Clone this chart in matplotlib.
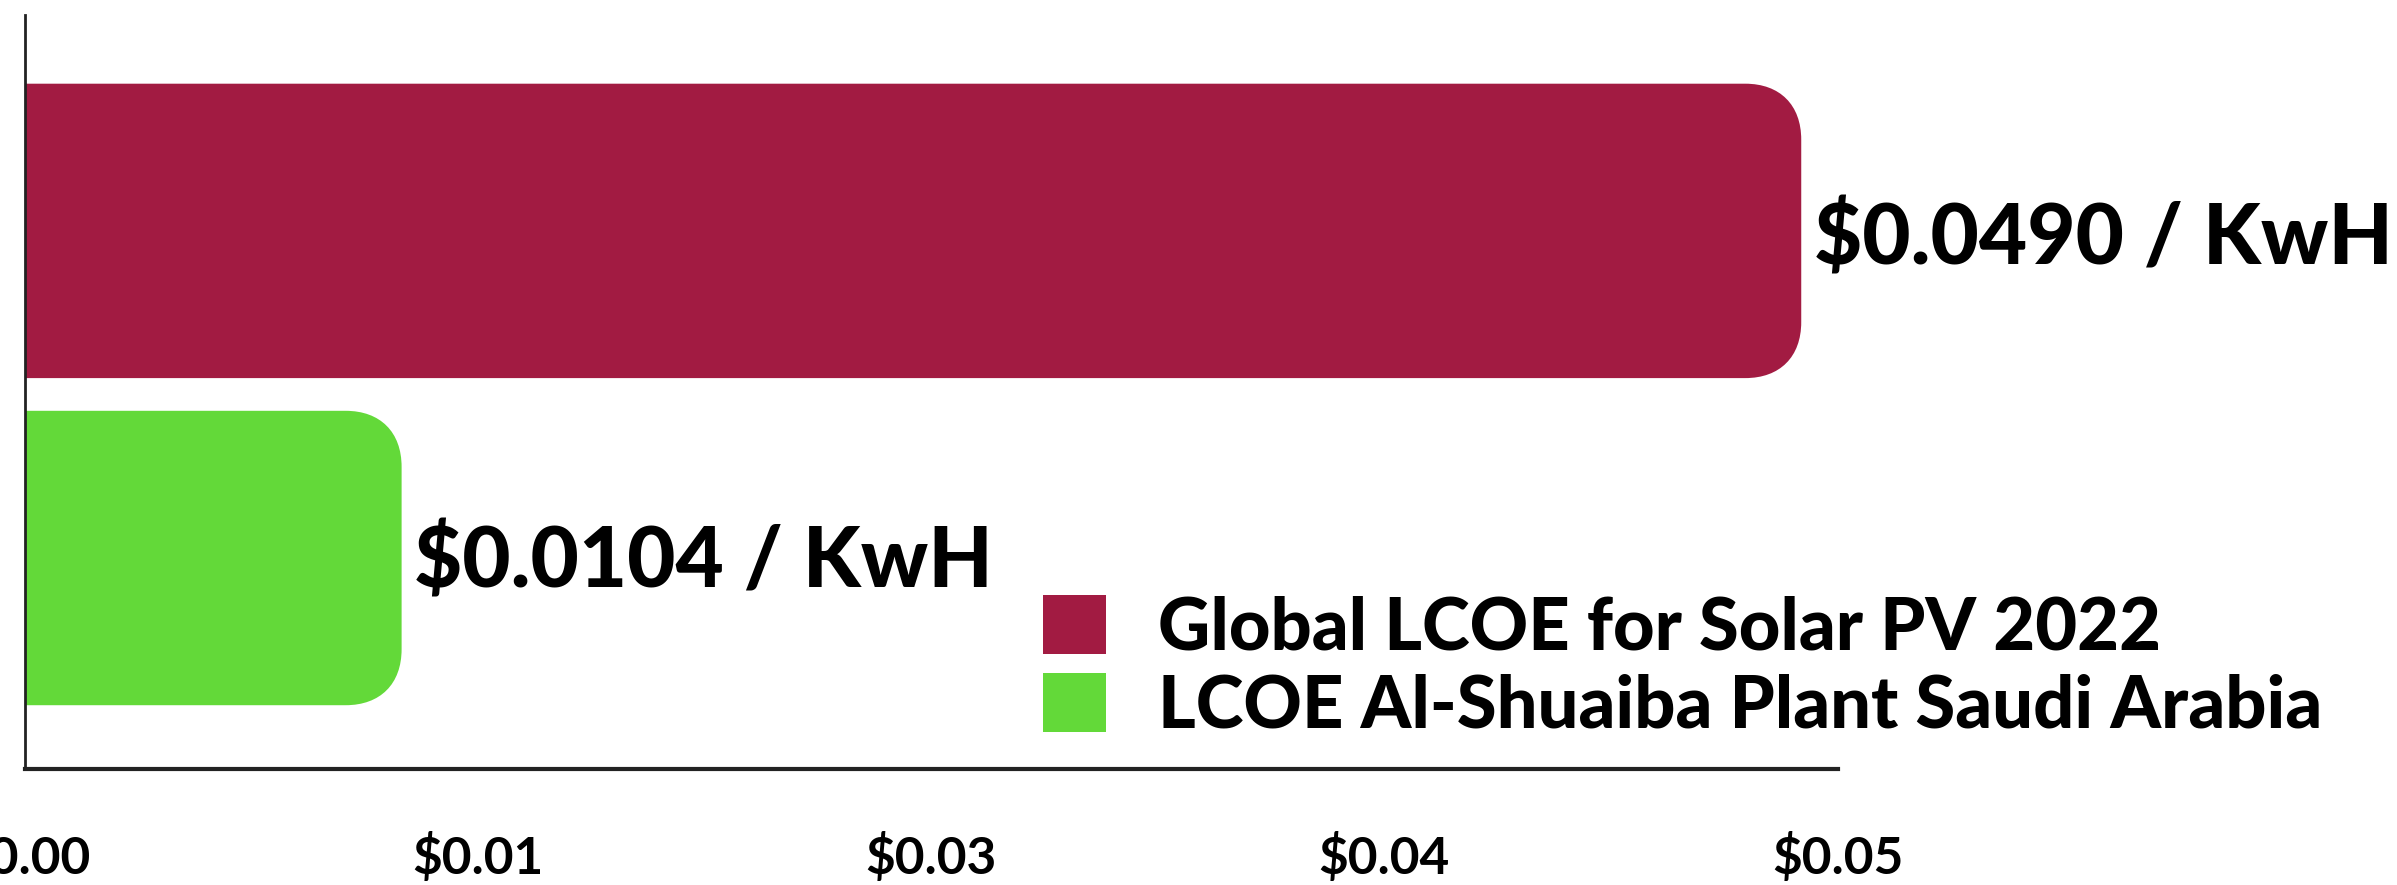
import matplotlib
matplotlib.use("Agg")
import matplotlib.pyplot as plt
from matplotlib.path import Path
from matplotlib.patches import PathPatch, Patch
from matplotlib.ticker import FixedLocator, FuncFormatter

# ---------------------------------------------------------------------------
# Data
# ---------------------------------------------------------------------------

categories = ["LCOE Al-Shuaiba Plant Saudi Arabia", "Global LCOE for Solar PV 2022"]
values = [0.0104, 0.0490]
value_labels = ["$0.0104 / KwH", "$0.0490 / KwH"]
colors = ["#63D939", "#A21B42"]
xticks = [0.0, 0.0125, 0.025, 0.0375, 0.05]

FONT = ["Lato", "DejaVu Sans"]
W, H, DPI = 2397, 885, 100

plt.rcParams.update({
    "font.family": FONT,
    "axes.spines.top": False,
    "axes.spines.right": False,
})


def rounded_right(ax, bar, r_px, k=0.62):
    """Replace a barh rectangle by a path with rounded right-hand corners."""
    p0 = ax.transData.transform((0, 0))
    p1 = ax.transData.transform((1, 1))
    rx = r_px / (p1[0] - p0[0])
    ry = r_px / (p1[1] - p0[1])
    x0, y0 = bar.get_x(), bar.get_y()
    x1, y1 = x0 + bar.get_width(), y0 + bar.get_height()
    verts = [
        (x0, y0), (x1 - rx, y0),
        (x1 - rx + k * rx, y0), (x1, y0 + ry - k * ry), (x1, y0 + ry),
        (x1, y1 - ry),
        (x1, y1 - ry + k * ry), (x1 - rx + k * rx, y1), (x1 - rx, y1),
        (x0, y1), (x0, y0),
    ]
    codes = [Path.MOVETO, Path.LINETO,
             Path.CURVE4, Path.CURVE4, Path.CURVE4,
             Path.LINETO,
             Path.CURVE4, Path.CURVE4, Path.CURVE4,
             Path.LINETO, Path.CLOSEPOLY]
    patch = PathPatch(Path(verts, codes), facecolor=bar.get_facecolor(),
                      edgecolor="none", zorder=2)
    ax.add_patch(patch)
    bar.set_visible(False)


fig = plt.figure(figsize=(W / DPI, H / DPI), dpi=DPI)
ax = fig.add_axes([24.5 / W, 1 - 769 / H, (1837.5 - 24.5) / W, (769 - 15) / H])

ypos = list(range(len(values)))
bars = ax.barh(ypos, values, height=0.9, color=colors)
ax.set_xlim(0, 0.05)
ax.set_ylim(-0.645, 1.66)

for b in bars:
    rounded_right(ax, b, 56)

offsets = [-3, -6]
for y, v, txt, dy in zip(ypos, values, value_labels, offsets):
    ax.annotate(txt, xy=(v, y), xytext=(9, dy), textcoords="offset points",
                ha="left", va="center", fontsize=60, fontweight="black",
                family=FONT, annotation_clip=False)

ax.set_yticks([])
ax.xaxis.set_major_locator(FixedLocator(xticks))
ax.xaxis.set_major_formatter(FuncFormatter(lambda v, _: f"${v:.2f}"))
ax.tick_params(axis="x", length=0, pad=46, labelsize=37)
for lbl in ax.get_xticklabels():
    lbl.set_fontweight("bold")

ax.spines["left"].set_linewidth(2)
ax.spines["bottom"].set_linewidth(3)
ax.spines["left"].set_color("#222222")
ax.spines["bottom"].set_color("#222222")

handles = [Patch(facecolor=colors[1], label=categories[1]),
           Patch(facecolor=colors[0], label=categories[0])]
ax.legend(handles=handles, loc="upper left",
          bbox_to_anchor=(1043 / W, 1 - 595 / H), bbox_transform=fig.transFigure,
          frameon=False, prop={"family": FONT, "weight": "black", "size": 52},
          handlelength=0.87, handleheight=0.87, handletextpad=0.72,
          labelspacing=0.15, borderpad=0, borderaxespad=0)

fig.savefig("out.png", dpi=DPI)
